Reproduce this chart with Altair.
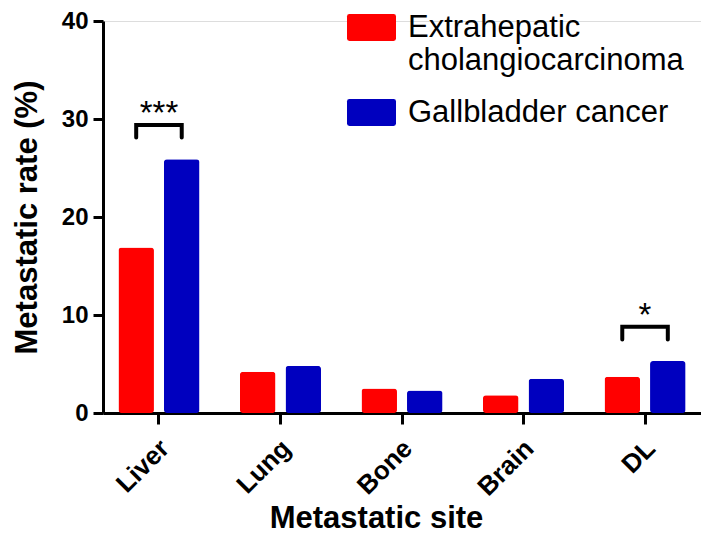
import altair as alt
import pandas as pd

sites = ["Liver", "Lung", "Bone", "Brain", "DL"]
series_names = ["Extrahepatic cholangiocarcinoma", "Gallbladder cancer"]
ecc_rate = [16.9, 4.2, 2.5, 1.8, 3.7]
gbc_rate = [25.9, 4.8, 2.3, 3.5, 5.3]
colors = ["#FF0000", "#0000BF"]

sig_sites = ["Liver", "DL"]
sig_top = [29.4, 8.8]
sig_leg = [28.1, 7.5]
sig_text = ["***", "*"]

y_ticks = [0, 10, 20, 30, 40]

bars = pd.DataFrame(
    [{"site": s, "series": series_names[0], "rate": v} for s, v in zip(sites, ecc_rate)]
    + [{"site": s, "series": series_names[1], "rate": v} for s, v in zip(sites, gbc_rate)]
)

rows = []
for i, (s, t, l) in enumerate(zip(sig_sites, sig_top, sig_leg)):
    pts = [(series_names[0], l), (series_names[0], t), (series_names[1], t), (series_names[1], l)]
    for k, (ser, v) in enumerate(pts):
        rows.append({"site": s, "series": ser, "val": v, "bid": i, "ord": k})
brackets = pd.DataFrame(rows)
stars = pd.DataFrame({"site": sig_sites, "val": sig_top, "txt": sig_text})

FONT = "Liberation Sans"

x_scale = alt.Scale(domain=sites, paddingInner=0.333, paddingOuter=0.127)
xo_scale = alt.Scale(domain=series_names, paddingInner=0.22, paddingOuter=0)
y_scale = alt.Scale(domain=[0, 40], nice=False, zero=True)

x_enc = alt.X(
    "site:N",
    scale=x_scale,
    sort=sites,
    axis=alt.Axis(
        title="Metastatic site",
        labelAngle=315,
        labelAlign="right",
        labelBaseline="middle",
        labelPadding=20,
        labelOffset=6,
        labelFont=FONT,
        labelFontSize=26,
        labelFontWeight="bold",
        labelColor="black",
        titleFont=FONT,
        titleFontSize=31,
        titleFontWeight="bold",
        titleColor="black",
        titleX=273,
        titleY=90,
        titleBaseline="top",
        domainColor="black",
        domainWidth=3,
        tickColor="black",
        tickWidth=3,
        tickSize=11,
        grid=False,
    ),
)
y_enc = alt.Y(
    "rate:Q",
    scale=y_scale,
    axis=alt.Axis(
        title="Metastatic rate (%)",
        values=y_ticks,
        labelFont=FONT,
        labelFontSize=24,
        labelFontWeight="bold",
        labelColor="black",
        labelPadding=5,
        titleFont=FONT,
        titleFontSize=31,
        titleFontWeight="bold",
        titleColor="black",
        titlePadding=18,
        domainColor="black",
        domainWidth=3,
        tickColor="black",
        tickWidth=3,
        tickSize=10,
        grid=False,
    ),
)

rect_path = (
    "M-0.9,-0.55 L0.9,-0.55 Q1,-0.55 1,-0.45 L1,0.45 Q1,0.55 0.9,0.55 "
    "L-0.9,0.55 Q-1,0.55 -1,0.45 L-1,-0.45 Q-1,-0.55 -0.9,-0.55 Z"
)

bar_layer = alt.Chart(bars).mark_bar(cornerRadius=3).encode(
    x=x_enc,
    xOffset=alt.XOffset("series:N", scale=xo_scale, sort=series_names),
    y=y_enc,
    color=alt.Color(
        "series:N",
        scale=alt.Scale(domain=series_names, range=colors),
        sort=series_names,
        legend=alt.Legend(
            title=None,
            orient="none",
            legendX=244,
            legendY=-18,
            padding=0,
            symbolType=rect_path,
            symbolSize=2401,
            symbolStrokeWidth=0,
            symbolOpacity=1,
            labelFont=FONT,
            labelFontSize=31,
            labelColor="black",
            labelOffset=12,
            labelLimit=0,
            rowPadding=12,
            labelExpr="datum.label == 'Extrahepatic cholangiocarcinoma' ? ['Extrahepatic', 'cholangiocarcinoma'] : datum.label",
        ),
    ),
)

line_layer = alt.Chart(brackets).mark_line(
    color="black", strokeWidth=4, strokeCap="round", strokeJoin="miter"
).encode(
    x=alt.X("site:N", scale=x_scale, sort=sites),
    xOffset=alt.XOffset("series:N", scale=xo_scale, sort=series_names),
    y=alt.Y("val:Q", scale=y_scale),
    detail="bid:N",
    order="ord:Q",
)

star_layer = alt.Chart(stars).mark_text(
    font=FONT, fontSize=33, color="black", baseline="alphabetic", align="center", dy=-1
).encode(
    x=alt.X("site:N", scale=x_scale, sort=sites),
    y=alt.Y("val:Q", scale=y_scale),
    text="txt:N",
)

chart = (
    alt.layer(bar_layer, line_layer, star_layer)
    .properties(
        width=598,
        height=392,
        autosize=alt.AutoSizeParams(type="none"),
        padding={"left": 95, "top": 13, "right": 0, "bottom": 125},
    )
    .configure_view(stroke=None)
    .configure(background="white")
)

chart.save("out.html", embed_options={"renderer": "svg", "actions": False})
